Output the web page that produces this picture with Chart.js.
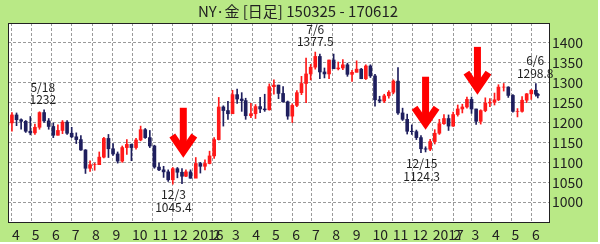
<!DOCTYPE html>
<html><head><meta charset="utf-8">
<script src="https://cdn.jsdelivr.net/npm/chart.js@4.4.0/dist/chart.umd.min.js"></script>
<style>html,body{margin:0;padding:0;background:#fff;overflow:hidden}</style>
</head><body><canvas id="c" width="600" height="244"></canvas>
<script>
const titleText = 'NY·金 [日足] 150325 - 170612';

// weekly candles (last trading day of each week), prices in USD/oz
const weekEnds = ['2015-03-27','2015-04-03','2015-04-10','2015-04-17','2015-04-24','2015-05-01','2015-05-08','2015-05-15','2015-05-22','2015-05-29','2015-06-05','2015-06-12','2015-06-19','2015-06-26','2015-07-03','2015-07-10','2015-07-17','2015-07-24','2015-07-31','2015-08-07','2015-08-14','2015-08-21','2015-08-28','2015-09-04','2015-09-11','2015-09-18','2015-09-25','2015-10-02','2015-10-09','2015-10-16','2015-10-23','2015-10-30','2015-11-06','2015-11-13','2015-11-20','2015-11-27','2015-12-04','2015-12-11','2015-12-18','2015-12-24','2015-12-31',
'2016-01-08','2016-01-15','2016-01-22','2016-01-29','2016-02-05','2016-02-12','2016-02-19','2016-02-26','2016-03-04','2016-03-11','2016-03-18','2016-03-24','2016-04-01','2016-04-08','2016-04-15','2016-04-22','2016-04-29','2016-05-06','2016-05-13','2016-05-20','2016-05-27','2016-06-03','2016-06-10','2016-06-17','2016-06-24','2016-07-01','2016-07-08','2016-07-15','2016-07-22','2016-07-29','2016-08-05','2016-08-12','2016-08-19','2016-08-26','2016-09-02','2016-09-09','2016-09-16','2016-09-23','2016-09-30','2016-10-07','2016-10-14','2016-10-21','2016-10-28','2016-11-04','2016-11-11','2016-11-18','2016-11-25','2016-12-02','2016-12-09','2016-12-16','2016-12-23','2016-12-30',
'2017-01-06','2017-01-13','2017-01-20','2017-01-27','2017-02-03','2017-02-10','2017-02-17','2017-02-24','2017-03-03','2017-03-10','2017-03-17','2017-03-24','2017-03-31','2017-04-07','2017-04-13','2017-04-21','2017-04-28','2017-05-05','2017-05-12','2017-05-19','2017-05-26','2017-06-02','2017-06-09','2017-06-12'];
const opens = [1194,1199,1219,1207,1203,1178,1174,1188,1225,1204,1190,1168,1180,1201,1173,1164,1157,1131,1085,1094,1094,1113,1160,1134,1121,1103,1137,1145,1137,1156,1182,1162,1141,1088,1081,1076,1056,1084,1075,1065,1076,
1060,1097,1090,1097,1116,1157,1239,1230,1222,1270,1259,1255,1217,1222,1240,1234,1232,1290,1294,1273,1252,1216,1243,1275,1298,1322,1339,1366,1327,1322,1357,1335,1337,1345,1321,1326,1334,1310,1342,1317,1257,1254,1267,1276,1304,1224,1208,1178,1177,1162,1134,1133,
1152,1173,1197,1210,1191,1220,1234,1239,1258,1234,1203,1230,1249,1251,1257,1289,1289,1268,1228,1228,1256,1272,1281,1271];
const highs = [1220,1225,1224,1209,1205,1215,1196,1227,1232,1210,1199,1194,1205,1205,1188,1174,1167,1132,1104,1098,1126,1163,1170,1147,1126,1141,1157,1146,1160,1191,1185,1180,1143,1098,1090,1081,1087,1087,1084,1081,1081,
1112,1100,1106,1128,1162,1263,1242,1253,1281,1284,1275,1261,1248,1245,1263,1271,1297,1307,1294,1290,1254,1247,1280,1316,1362,1346,1377,1372,1337,1357,1372,1352,1358,1349,1331,1355,1336,1345,1345,1321,1266,1271,1280,1307,1338,1236,1221,1194,1181,1167,1139,1158,
1182,1208,1220,1219,1226,1244,1246,1264,1264,1234,1232,1262,1260,1274,1295,1298,1290,1270,1235,1265,1273,1283,1298,1273];
const lows = [1190,1178,1192,1183,1175,1169,1170,1183,1200,1183,1162,1168,1172,1170,1162,1147,1130,1072,1077,1080,1094,1111,1112,1117,1098,1100,1120,1104,1133,1154,1160,1137,1085,1079,1062,1052,1045,1061,1046,1064,1060,
1062,1073,1081,1096,1110,1156,1191,1208,1224,1248,1228,1208,1212,1210,1225,1228,1231,1271,1260,1251,1208,1200,1240,1270,1250,1307,1334,1310,1312,1310,1336,1332,1333,1316,1303,1327,1310,1308,1313,1241,1250,1250,1261,1272,1220,1205,1171,1170,1157,1124,1126,1129,
1146,1170,1195,1180,1190,1216,1224,1236,1223,1195,1196,1227,1240,1244,1255,1279,1263,1226,1214,1226,1250,1258,1266,1262];
const closes = [1199,1219,1207,1203,1178,1174,1188,1225,1204,1190,1168,1180,1201,1173,1164,1157,1131,1085,1094,1094,1113,1160,1134,1121,1103,1137,1145,1137,1156,1182,1162,1141,1088,1081,1076,1056,1084,1075,1065,1076,1060,
1097,1090,1097,1116,1157,1239,1230,1222,1270,1259,1255,1217,1222,1240,1234,1232,1290,1294,1273,1252,1216,1243,1275,1298,1322,1339,1366,1327,1322,1357,1335,1337,1345,1321,1326,1334,1310,1342,1317,1257,1254,1267,1276,1304,1224,1208,1178,1177,1162,1134,1133,1152,
1173,1197,1210,1191,1220,1234,1239,1258,1234,1203,1230,1249,1251,1257,1289,1289,1268,1228,1228,1256,1272,1281,1271,1268];

const monthStarts = ['2015-04-01','2015-05-01','2015-06-01','2015-07-01','2015-08-01','2015-09-01','2015-10-01','2015-11-01','2015-12-01','2016-01-01','2016-02-01','2016-03-01','2016-04-01','2016-05-01','2016-06-01','2016-07-01','2016-08-01','2016-09-01','2016-10-01','2016-11-01','2016-12-01','2017-01-01','2017-02-01','2017-03-01','2017-04-01','2017-05-01','2017-06-01'];
const monthLabels = ['4','5','6','7','8','9','10','11','12','2016','2','3','4','5','6','7','8','9','10','11','12','2017','2','3','4','5','6'];
const yTickValues = [1000,1050,1100,1150,1200,1250,1300,1350,1400];

const noteDates = ['2015-05-18','2016-07-06','2017-06-06','2015-12-03','2016-12-15'];
const noteDateText = ['5/18','7/6','6/6','12/3','12/15'];
const notePriceText = ['1232','1377.5','1298.8','1045.4','1124.3'];
const notePrices = [1232,1377.5,1298.8,1045.4,1124.3];
const noteAbove = [true,true,true,false,false];

const arrowDates = ['2015-12-18','2016-12-21','2017-03-10'];
const arrowTops = [1237,1315,1390];
const arrowTips = [1112,1182,1270];

const xMinDate = '2015-03-26', xMaxDate = '2017-06-27';

const UP = '#ff1a1a', DOWN = '#1f1f5e';
const FONT = '"Noto Sans CJK JP", "Noto Sans", sans-serif';
const base = Date.UTC(2015,3,1);
function day(s){const p=s.split('-').map(Number);return (Date.UTC(p[0],p[1]-1,p[2])-base)/864e5;}
const cols = closes.map((c,i)=> c>=opens[i] ? UP : DOWN);

const deco = {
  id:'deco',
  beforeDraw(ch){
    const c=ch.ctx, a=ch.chartArea;
    c.save();
    c.fillStyle='#b9e986'; c.fillRect(0,0,598,242);
    c.fillStyle='#ffffff'; c.fillRect(a.left,a.top,a.right-a.left,a.bottom-a.top);
    c.restore();
  },
  afterDraw(ch){
    const c=ch.ctx, a=ch.chartArea, xs=ch.scales.x, ys=ch.scales.y;
    c.save();
    c.strokeStyle='#222'; c.lineWidth=1;
    c.strokeRect(Math.round(a.left)+0.5,Math.round(a.top)+0.5,Math.round(a.right-a.left),Math.round(a.bottom-a.top));
    // title
    c.fillStyle='#222'; c.font='15px '+FONT; c.textAlign='center'; c.textBaseline='middle';
    c.fillText(titleText,298,11);
    // notes
    c.font='12px '+FONT;
    noteDates.forEach((d,i)=>{
      const x=xs.getPixelForValue(day(d)), y=ys.getPixelForValue(notePrices[i]);
      if(noteAbove[i]){ c.fillText(noteDateText[i],x,y-22.5); c.fillText(notePriceText[i],x,y-10); }
      else { c.fillText(noteDateText[i],x,y+10.5); c.fillText(notePriceText[i],x,y+23.5); }
    });
    // arrows
    c.strokeStyle='#ff0000'; c.lineWidth=7; c.lineCap='butt'; c.lineJoin='miter';
    arrowDates.forEach((d,i)=>{
      const x=xs.getPixelForValue(day(d)), t=ys.getPixelForValue(arrowTops[i]), b=ys.getPixelForValue(arrowTips[i]);
      c.beginPath(); c.moveTo(x,t); c.lineTo(x,b-8); c.stroke();
      c.beginPath(); c.moveTo(x-11,b-22); c.lineTo(x,b-6); c.lineTo(x+11,b-22); c.stroke();
    });
    c.restore();
  }
};

new Chart(document.getElementById('c'),{
  type:'bar',
  data:{datasets:[
    {data:weekEnds.map((d,i)=>({x:day(d)-2,y:[lows[i],highs[i]]})),backgroundColor:cols,barThickness:1,grouped:false},
    {data:weekEnds.map((d,i)=>({x:day(d)-2,y:[opens[i],closes[i]]})),backgroundColor:cols,barThickness:3,grouped:false}
  ]},
  options:{
    responsive:false, animation:false, devicePixelRatio:1,
    layout:{padding:{left:8,top:23,right:0,bottom:0}},
    plugins:{legend:{display:false},tooltip:{enabled:false},title:{display:false}},
    scales:{
      x:{type:'linear',offset:false,min:day(xMinDate),max:day(xMaxDate),
        afterBuildTicks:s=>{s.ticks=monthStarts.map(m=>({value:day(m)}));},
        afterFit:s=>{s.height=22;},
        grid:{offset:false,color:'#9a9a9a',drawTicks:false,lineWidth:1},
        border:{display:false,dash:[3,2]},
        ticks:{autoSkip:false,maxRotation:0,align:'start',padding:4,color:'#222',font:{family:FONT,size:14},
          callback:(v,i)=>monthLabels[i]}
      },
      y:{position:'right',min:950,max:1450,
        afterBuildTicks:s=>{s.ticks=yTickValues.map(v=>({value:v}));},
        afterFit:s=>{s.width=51;},
        grid:{color:'#9a9a9a',drawTicks:false,lineWidth:1},
        border:{display:false,dash:[3,2]},
        ticks:{padding:3,color:'#222',font:{family:FONT,size:14},callback:v=>String(v)}
      }
    }
  },
  plugins:[deco]
});
</script></body></html>
